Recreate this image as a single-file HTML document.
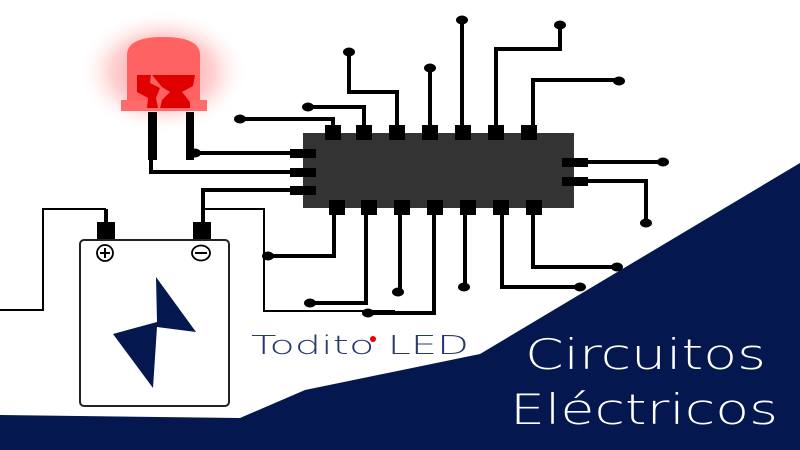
<!DOCTYPE html>
<html><head><meta charset="utf-8"><style>html,body{margin:0;padding:0;background:#fff}svg{display:block}.t{font-family:"DejaVu Sans ExtraLight","DejaVu Sans","Liberation Sans",sans-serif;font-weight:200}</style></head><body>
<svg width="800" height="450" viewBox="0 0 800 450" xmlns="http://www.w3.org/2000/svg">
<defs>
<radialGradient id="glow" cx="0.5" cy="0.5" r="0.5">
<stop offset="0" stop-color="#ff3333" stop-opacity="0.6"/>
<stop offset="0.6" stop-color="#ff6666" stop-opacity="0.3"/>
<stop offset="1" stop-color="#ffffff" stop-opacity="0"/>
</radialGradient>
</defs>
<rect width="800" height="450" fill="#fff"/>
<polygon points="0,415 240,418 305,390 480,354 800,163 800,450 0,450" fill="#04174f"/>
<ellipse cx="163" cy="72" rx="85" ry="62" fill="url(#glow)"/>
<g stroke="#000" fill="none" stroke-width="4">
<polyline points="333,125 333,119 240,119"/>
<polyline points="364,125 364,107 308,107"/>
<polyline points="397,125 397,92 349,92 349,52"/>
<polyline points="430,125 430,68"/>
<polyline points="462,125 462,20"/>
<polyline points="496,125 496,49 560,49 560,25"/>
<polyline points="533,125 533,80 619,80"/>
<polyline points="588,162 663,162"/>
<polyline points="588,181 646,181 646,223"/>
<polyline points="334,215 334,256 268,256"/>
<polyline points="366,215 366,303 310,303"/>
<polyline points="400,215 400,292"/>
<polyline points="434,215 434,313 368,313"/>
<polyline points="465,215 465,287"/>
<polyline points="502,215 502,287 580,287"/>
<polyline points="533,215 533,267 617,267"/>
<polyline points="290,153 193,153"/>
<polyline points="290,172 151,172 151,160"/>
<polyline points="290,190 203,190 203,223"/>
<polyline points="106,223 106,209"/>
</g>
<g stroke="#000" fill="none" stroke-width="2">
<polyline points="106,209 43,209 43,310 0,310"/>
<polyline points="205,209 264,209 264,311 395,311"/>
</g>
<g fill="#000">
<ellipse cx="240" cy="119" rx="6" ry="4.5"/>
<ellipse cx="308" cy="107" rx="6" ry="4.5"/>
<ellipse cx="349" cy="52" rx="6" ry="4.5"/>
<ellipse cx="430" cy="68" rx="6" ry="4.5"/>
<ellipse cx="462" cy="20" rx="6" ry="4.5"/>
<ellipse cx="560" cy="25" rx="6" ry="4.5"/>
<ellipse cx="619" cy="81" rx="6" ry="4.5"/>
<ellipse cx="663" cy="162" rx="6" ry="4.5"/>
<ellipse cx="646" cy="223" rx="6" ry="4.5"/>
<ellipse cx="268" cy="256" rx="6" ry="4.5"/>
<ellipse cx="310" cy="303" rx="6" ry="4.5"/>
<ellipse cx="398" cy="292" rx="6" ry="4.5"/>
<ellipse cx="368" cy="313" rx="6" ry="4.5"/>
<ellipse cx="464" cy="287" rx="6" ry="4.5"/>
<ellipse cx="580" cy="287" rx="6" ry="4.5"/>
<ellipse cx="617" cy="267" rx="6" ry="4.5"/>
<ellipse cx="195" cy="153" rx="6" ry="4.5"/>
</g>
<rect x="303" y="133" width="271" height="75" fill="#333"/>
<g fill="#000">
<rect x="325" y="125" width="16" height="15"/><rect x="356" y="125" width="16" height="15"/><rect x="389" y="125" width="16" height="15"/><rect x="422" y="125" width="16" height="15"/><rect x="455" y="125" width="16" height="15"/><rect x="488" y="125" width="16" height="15"/><rect x="521" y="125" width="16" height="15"/>
<rect x="329" y="200" width="16" height="15"/><rect x="361" y="200" width="16" height="15"/><rect x="394" y="200" width="16" height="15"/><rect x="427" y="200" width="16" height="15"/><rect x="460" y="200" width="16" height="15"/><rect x="493" y="200" width="16" height="15"/><rect x="526" y="200" width="16" height="15"/>
<rect x="290" y="149" width="26" height="9"/><rect x="290" y="168" width="26" height="9"/><rect x="290" y="186" width="26" height="9"/>
<rect x="562" y="158" width="26" height="9"/><rect x="562" y="177" width="26" height="9"/>
</g>
<rect x="148" y="112" width="9" height="48" fill="#000"/>
<rect x="186" y="112" width="8" height="48" fill="#000"/>
<path d="M127,100 L127,55 Q127,37 163,37 Q200,37 200,55 L200,100 Z" fill="#ff6262"/>
<rect x="121" y="100" width="86" height="11" fill="#ff6a6a"/>
<path d="M137,75 L151,75 L150,83 L160,88 L156,98 L158,108 L147,108 L148,98 L137,92 Z" fill="#e00000"/>
<path d="M152,75 L195,75 L193,86 L182,92 L190,102 L190,108 L160,108 L162,100 L170,92 L162,87 Z" fill="#e00000"/>
<rect x="97" y="222" width="18" height="18" fill="#000"/>
<rect x="193" y="222" width="18" height="18" fill="#000"/>
<rect x="80" y="240" width="149" height="166" rx="4" fill="#fff" stroke="#222" stroke-width="2"/>
<circle cx="105" cy="253" r="8" fill="none" stroke="#000" stroke-width="1.8"/>
<path d="M100,253 H110 M105,248 V258" stroke="#000" stroke-width="2"/>
<ellipse cx="201" cy="253" rx="9" ry="7.5" fill="none" stroke="#000" stroke-width="1.8"/>
<path d="M195,253 H207" stroke="#000" stroke-width="2"/>
<polygon points="156,277 196,332 157,327 153,388 113,334 157,322" fill="#04174f"/>
<text class="t" x="251" y="354" font-size="26" fill="#2a3870" textLength="218" lengthAdjust="spacingAndGlyphs">Todito LED</text>
<circle cx="373" cy="339" r="3" fill="#e00"/>
<text class="t" x="525" y="369" font-size="42" fill="#fff" textLength="241" lengthAdjust="spacingAndGlyphs">Circuitos</text>
<text class="t" x="510" y="424" font-size="42" fill="#fff" textLength="268" lengthAdjust="spacingAndGlyphs">Eléctricos</text>
</svg>
</body></html>
